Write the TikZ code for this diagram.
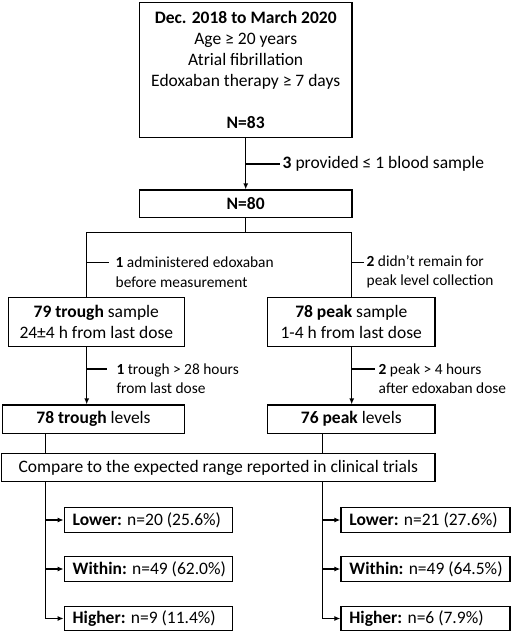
\documentclass[tikz,border=0pt]{standalone}
\usepackage{fontspec}
\setmainfont{Carlito}
\usetikzlibrary{arrows.meta}
\begin{document}
\begin{tikzpicture}[x=1pt,y=-1pt,
  every node/.style={font=\fontsize{17.5}{21}\selectfont},
  box/.style={draw,line width=1.3pt,inner sep=0pt,align=center},
  res/.style={draw,line width=1.3pt,inner ysep=0pt,inner xsep=8.4pt,minimum height=24.5pt},
  lab/.style={inner sep=0pt,align=left,anchor=west,font=\fontsize{15.4}{19.5}\selectfont},
  conn/.style={line width=1.3pt},
  arr/.style={line width=1.3pt,-{Latex[length=6pt,width=5pt]}}]
\useasboundingbox (0,0) rectangle (512,634);
% boxes
\node[box,minimum width=212.4pt,minimum height=135pt] (top) at (245.7,69.8)
  {\textbf{Dec. 2018 to March 2020}\\Age ≥ 20 years\\Atrial fibrillation\\Edoxaban therapy ≥ 7 days\\[21pt]\textbf{N=83}};
\node[box,minimum width=212.4pt,minimum height=27.3pt] (n80) at (245.7,203.7) {\textbf{N=80}};
\node[box,minimum width=176pt,minimum height=49.4pt] (trough) at (96.3,322)
  {\textbf{79 trough} sample\\24±4 h from last dose};
\node[box,minimum width=167.3pt,minimum height=49.4pt] (peak) at (351.3,322)
  {\textbf{78 peak} sample\\1-4 h from last dose};
\node[box,minimum width=181.6pt,minimum height=28.3pt] (troughlev) at (93.5,419.2)
  {\textbf{78 trough} levels};
\node[box,minimum width=167.3pt,minimum height=28.3pt] (peaklev) at (351.3,419.2)
  {\textbf{76 peak} levels};
\node[box,minimum width=433.3pt,minimum height=28.4pt] (compare) at (218.3,467.5)
  {Compare to the expected range reported in clinical trials};
% result boxes
\node[res] (tl) at (148.3,520) {\makebox[151.2pt][l]{\textbf{Lower:} n=20 (25.6\%)}};
\node[res] (tw) at (148.3,569) {\makebox[151.2pt][l]{\textbf{Within:} n=49 (62.0\%)}};
\node[res] (th) at (148.3,618.5) {\makebox[151.2pt][l]{\textbf{Higher:} n=9 (11.4\%)}};
\node[res] (pl) at (425.5,520) {\makebox[152.2pt][l]{\textbf{Lower:} n=21 (27.6\%)}};
\node[res] (pw) at (425.5,569) {\makebox[152.2pt][l]{\textbf{Within:} n=49 (64.5\%)}};
\node[res] (ph) at (425.5,618.5) {\makebox[152.2pt][l]{\textbf{Higher:} n=6 (7.9\%)}};
% labels
\node[lab,inner xsep=2.5pt,font=\fontsize{17.5}{21}\selectfont] (l3) at (280,164) {\textbf{3} provided ≤ 1 blood sample};
\node[lab,inner xsep=6.5pt] (l1) at (109,272) {\textbf{1} administered edoxaban\\before measurement};
\node[lab,inner xsep=2.5pt] (l2) at (364,272) {\textbf{2} didn’t remain for\\peak level collection};
\node[lab,inner xsep=9pt] (l4) at (107.3,378.5) {\textbf{1} trough > 28 hours\\from last dose};
\node[lab,inner xsep=3.5pt] (l5) at (375,378.5) {\textbf{2} peak > 4 hours\\after edoxaban dose};
% coordinates
\coordinate (b3) at (245.7,164);
\coordinate (split) at (245.7,232.3);
\coordinate (splitL) at (86.7,232.3);
\coordinate (splitR) at (351.7,232.3);
\coordinate (b1) at (86.7,262.7);
\coordinate (b2) at (351.7,262.7);
\coordinate (b4) at (86.7,369);
\coordinate (b5) at (351.7,369);
\coordinate (cL) at (45.7,0);
\coordinate (cR) at (322.7,0);
% connectors
\draw[arr] (top.south) -- (n80.north);
\draw[conn] (b3) -- (l3.west);
\draw[conn] (n80.south) -- (split);
\draw[conn] (splitL) -- (splitR);
\draw[conn] (splitL) -- (splitL |- trough.north);
\draw[conn] (splitR) -- (splitR |- peak.north);
\draw[conn] (b1) -- (b1 -| l1.west);
\draw[conn] (b2) -- (b2 -| l2.west);
\draw[arr] (splitL |- trough.south) -- (splitL |- troughlev.north);
\draw[arr] (splitR |- peak.south) -- (splitR |- peaklev.north);
\draw[conn] (b4) -- (b4 -| l4.west);
\draw[conn] (b5) -- (b5 -| l5.west);
\draw[conn] (cL |- troughlev.south) -- (cL |- compare.north);
\draw[conn] (cR |- peaklev.south) -- (cR |- compare.north);
\draw[conn] (cL |- compare.south) -- (cL |- th.west);
\draw[conn] (cR |- compare.south) -- (cR |- ph.west);
\draw[arr] (cL |- tl.west) -- (tl.west);
\draw[arr] (cL |- tw.west) -- (tw.west);
\draw[arr] (cL |- th.west) -- (th.west);
\draw[arr] (cR |- pl.west) -- (pl.west);
\draw[arr] (cR |- pw.west) -- (pw.west);
\draw[arr] (cR |- ph.west) -- (ph.west);
\end{tikzpicture}
\end{document}
